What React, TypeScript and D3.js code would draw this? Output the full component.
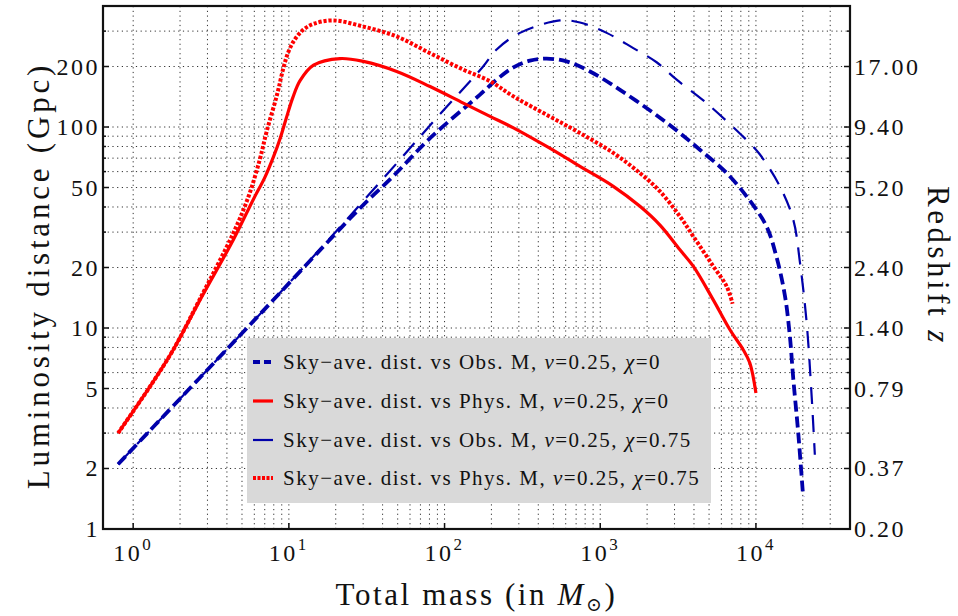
import React from 'react';
import * as d3 from 'd3';

// ---------- data ----------
const massObsChi0 = [0.8, 2, 4.86, 8.8, 20.3, 30.1, 46.9, 80.7, 169, 216, 277, 354, 453, 608, 860, 1340, 2193, 3250, 4365, 6490, 9140, 11700, 13570, 15350, 16520, 17370, 18700, 20100];
const distObsChi0 = [2.1, 4.45, 9.2, 15.0, 29.9, 41, 57, 88, 145, 172, 198, 214, 219, 212, 189, 153, 117.5, 93.3, 77.1, 59, 43, 32, 22.5, 14.5, 9.1, 5.6, 3.0, 1.45];

const massPhysChi0 = [0.8, 1, 1.29, 1.81, 2.69, 4.4, 5.9, 7.0, 7.96, 8.8, 9.6, 10.6, 11.8, 14.4, 21.3, 30.1, 49.3, 80.7, 132, 196, 277, 453, 741, 1213, 1799, 2420, 3250, 3957, 5320, 6810, 8280, 9140, 10000];
const distPhysChi0 = [3.0, 3.85, 5.15, 7.8, 13.8, 27.5, 43.5, 56, 71, 88, 110, 140, 170, 203, 219, 212, 189, 159, 131.5, 113, 99, 80, 63.7, 50.7, 40.3, 32.5, 24.5, 20.3, 13.8, 9.8, 7.8, 6.7, 4.75];

const massObsChi75 = [0.8, 2, 4.86, 8.8, 20.3, 49.3, 89, 177, 216, 305, 551, 741, 1099, 1630, 2302, 3097, 4820, 9140, 10610, 14250, 17370, 19190, 21180, 22800, 23900];
const distObsChi75 = [2.1, 4.45, 9.2, 15.0, 30.5, 66, 111, 200, 243, 294, 339, 331, 294, 247, 210, 172, 131.5, 83, 73, 50.7, 34.6, 21.1, 10.6, 4.57, 2.34];

const massPhysChi75 = [0.8, 1, 1.29, 1.81, 2.69, 4.4, 5.5, 6.5, 7.2, 8.4, 9.2, 9.9, 10.9, 12.4, 14.4, 19.3, 30.1, 49.3, 80.7, 132, 196, 277, 453, 741, 1213, 1799, 2420, 3250, 3957, 5320, 6490, 7080];
const distPhysChi75 = [3.0, 3.85, 5.15, 7.8, 14.0, 29.7, 45, 68.8, 95, 145, 195, 235, 272, 305, 326, 339, 316, 282, 233, 193, 169, 142, 115, 93.3, 74.3, 59, 47.8, 35.9, 28.6, 20.3, 16.1, 13.2];

const seriesKinds = ['Obs.', 'Phys.', 'Obs.', 'Phys.'];
const seriesChi = ['0', '0', '0.75', '0.75'];
const seriesNu = '0.25';

const yTickValues = [1, 2, 5, 10, 20, 50, 100, 200];
const zTickLabels = ['0.20', '0.37', '0.79', '1.40', '2.40', '5.20', '9.40', '17.00'];
const xTickExponents = [0, 1, 2, 3, 4];

// ---------- layout ----------
const W = 958;
const H = 616;
const L = 103, R = 850, T = 6, B = 529;

const x = d3.scaleLog().domain([0.64, 40200]).range([L, R]);
const y = d3.scaleLog().domain([1, 400]).range([B, T]);

const BLUE = '#0000aa';
const RED = '#ff0000';
const FONT = "'Liberation Serif', 'Times New Roman', 'DejaVu Serif', serif";

const styles = [
  { stroke: BLUE, width: 3.8, dash: '11,5' },
  { stroke: RED, width: 3.2, dash: null as string | null },
  { stroke: BLUE, width: 2.2, dash: '17,11' },
  { stroke: RED, width: 4, dash: '3.2,1.8' },
];

const masses = [massObsChi0, massPhysChi0, massObsChi75, massPhysChi75];
const dists = [distObsChi0, distPhysChi0, distObsChi75, distPhysChi75];

const line = d3
  .line<[number, number]>()
  .x((d) => x(d[0]))
  .y((d) => y(d[1]))
  .curve(d3.curveCatmullRom.alpha(0.5));

const txt = { fontFamily: FONT } as React.CSSProperties;

export default function App() {
  const xGrid: number[] = [];
  for (let k = 0; k <= 4; k++) for (let j = 1; j <= 9; j++) {
    const v = j * Math.pow(10, k);
    if (v <= 40200) xGrid.push(v);
  }
  const yGrid: number[] = [];
  for (let k = 0; k <= 2; k++) for (let j = 1; j <= 9; j++) {
    const v = j * Math.pow(10, k);
    if (v < 400) yGrid.push(v);
  }

  const legendX = 247, legendY = 338, legendW = 464, legendH = 165;
  const legendRows = [362, 401, 440, 478];

  return (
    <svg width={W} height={H} style={{ position: 'absolute', left: 0, top: 0, background: '#fff', fontFamily: FONT }}>
      {/* grid */}
      <g stroke="#000" strokeWidth={1} strokeDasharray="1.2,3.5" opacity={0.8}>
        {xGrid.map((v) => (
          <line key={'gx' + v} x1={x(v)} x2={x(v)} y1={B} y2={T} />
        ))}
        {yGrid.map((v) => (
          <line key={'gy' + v} x1={L} x2={R} y1={y(v)} y2={y(v)} />
        ))}
      </g>

      {/* curves */}
      <g fill="none">
        {masses.map((ms, i) => (
          <path
            key={'s' + i}
            d={line(ms.map((m, j) => [m, dists[i][j]] as [number, number])) || ''}
            stroke={styles[i].stroke}
            strokeWidth={styles[i].width}
            strokeDasharray={styles[i].dash || undefined}
          />
        ))}
      </g>

      {/* legend */}
      <rect x={legendX} y={legendY} width={legendW} height={legendH} fill="#d9d9d9" />
      {legendRows.map((ly, i) => (
        <g key={'lg' + i}>
          <line x1={253} x2={273} y1={ly} y2={ly} stroke={styles[i].stroke} strokeWidth={styles[i].width}
            strokeDasharray={i === 0 ? '7,4' : i === 3 ? '3,1.5' : undefined} />
          <text x={283} y={ly + 7} fontSize={21} letterSpacing={1.5} fill="#111" style={txt}>
            <tspan>{`Sky\u2212ave. dist. vs ${seriesKinds[i]} M, `}</tspan>
            <tspan fontStyle="italic">ν</tspan>
            <tspan>{`=${seriesNu}, `}</tspan>
            <tspan fontStyle="italic">χ</tspan>
            <tspan>{`=${seriesChi[i]}`}</tspan>
          </text>
        </g>
      ))}

      {/* frame */}
      <rect x={L} y={T} width={R - L} height={B - T} fill="none" stroke="#111" strokeWidth={2.2} />

      {/* ticks */}
      <g stroke="#111" strokeWidth={1.5}>
        {xTickExponents.map((e) => (
          <line key={'xt' + e} x1={x(Math.pow(10, e))} x2={x(Math.pow(10, e))} y1={B} y2={B - 6} />
        ))}
        {yTickValues.map((v) => (
          <g key={'yt' + v}>
            <line x1={L} x2={L + 6} y1={y(v)} y2={y(v)} />
            <line x1={R} x2={R - 6} y1={y(v)} y2={y(v)} />
          </g>
        ))}
        {yGrid.filter((v) => !yTickValues.includes(v)).map((v) => (
          <g key={'ym' + v}>
            <line x1={L} x2={L + 3} y1={y(v)} y2={y(v)} />
            <line x1={R} x2={R - 3} y1={y(v)} y2={y(v)} />
          </g>
        ))}
      </g>

      {/* tick labels */}
      <g fontSize={24} fill="#111" letterSpacing={2.5} style={txt}>
        {yTickValues.map((v) => (
          <text key={'yl' + v} x={L - 3} y={y(v)} textAnchor="end" dominantBaseline="central">{v}</text>
        ))}
        {yTickValues.map((v, i) => (
          <text key={'zl' + v} x={R + 4} y={y(v)} dominantBaseline="central">{zTickLabels[i]}</text>
        ))}
        {xTickExponents.map((e) => (
          <text key={'xl' + e} x={x(Math.pow(10, e))} y={561} textAnchor="middle">
            <tspan>10</tspan>
            <tspan dy={-11} fontSize={17}>{e}</tspan>
          </text>
        ))}
      </g>

      {/* axis titles */}
      <text x={(L + R) / 2} y={605} textAnchor="middle" fontSize={31} letterSpacing={2.6} fill="#111" style={txt}>
        <tspan>Total mass (in </tspan>
        <tspan fontStyle="italic">M</tspan>
        <tspan dy={6} fontSize={19}>⊙</tspan>
        <tspan dy={-6}>)</tspan>
      </text>
      <text transform={`translate(49, ${(T + B) / 2 + 8}) rotate(-90)`} textAnchor="middle" fontSize={31} letterSpacing={3.8} fill="#111" style={txt}>
        Luminosity distance (Gpc)
      </text>
      <text transform={`translate(928, 266) rotate(90)`} textAnchor="middle" fontSize={31} letterSpacing={3.5} fill="#111" style={txt}>
        <tspan>Redshift </tspan>
        <tspan fontStyle="italic">z</tspan>
      </text>
    </svg>
  );
}
